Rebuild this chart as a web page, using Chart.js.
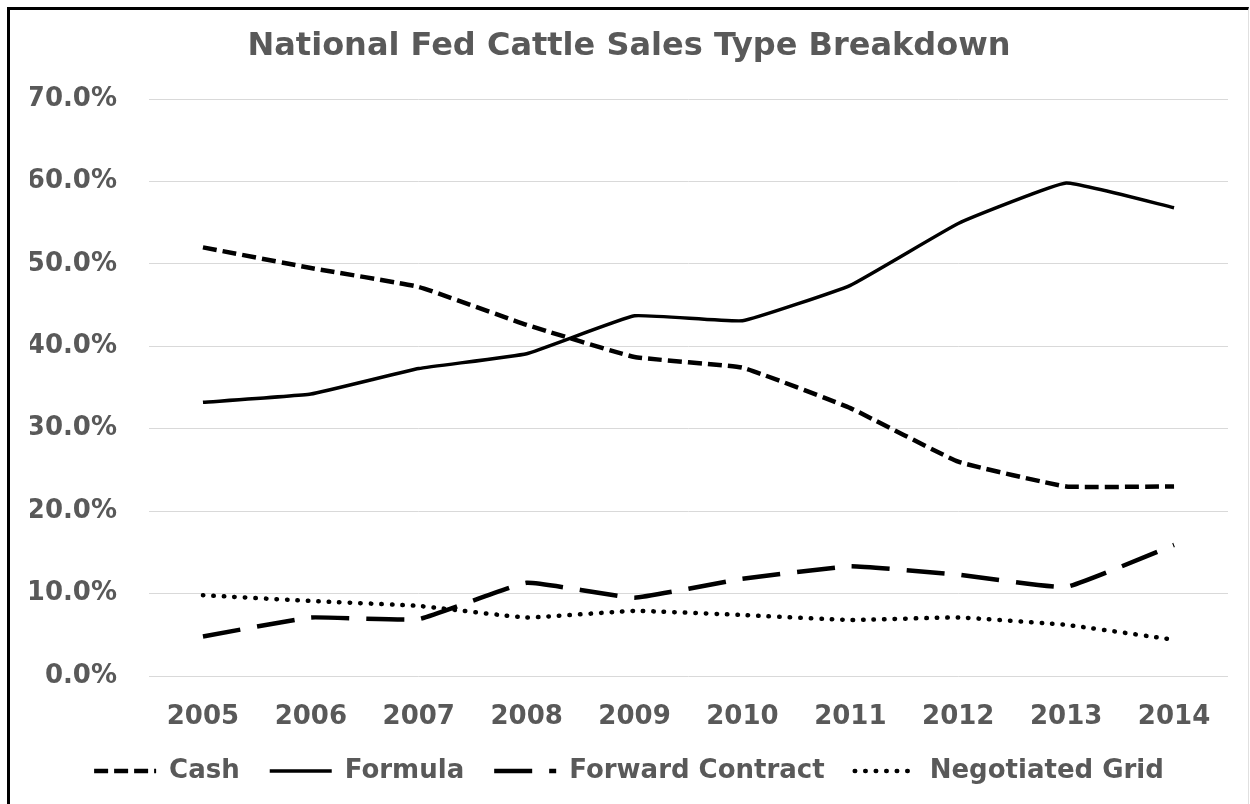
<!DOCTYPE html>
<html>
<head>
<meta charset="utf-8">
<script src="https://cdn.jsdelivr.net/npm/chart.js@4"></script>
<style>
  body { margin: 0; background: #fff; }
  #frame { position: absolute; left: 7px; top: 7px; width: 1238px; height: 810px;
           border-left: 3px solid #000; border-top: 3px solid #000; border-right: 1px solid #e0e0e0; }
  #wrap { position: absolute; left: 0; top: 0; width: 1250px; height: 804px; }
</style>
</head>
<body>
<div id="frame"></div>
<div id="wrap"><canvas id="myChart" width="1250" height="804"></canvas></div>
<script>
// data
const years = ["2005", "2006", "2007", "2008", "2009", "2010", "2011", "2012", "2013", "2014"];
const cash = [52.0, 49.5, 47.2, 42.6, 38.7, 37.4, 32.5, 26.0, 23.0, 23.0];
const formula = [33.2, 34.2, 37.3, 39.1, 43.7, 43.1, 47.4, 54.9, 59.8, 56.8];
const forwardContract = [4.8, 7.1, 6.9, 11.3, 9.5, 11.8, 13.3, 12.3, 10.8, 15.9];
const negotiatedGrid = [9.8, 9.1, 8.5, 7.1, 7.9, 7.4, 6.8, 7.1, 6.2, 4.4];
const yTicks = [0, 10, 20, 30, 40, 50, 60, 70];

const textColor = "#595959";
const fontFamily = "'DejaVu Sans', sans-serif";

//common look for each line
function lineSet(label, data, dash, width, cap) {
  return {
    label: label,
    data: data,
    borderColor: "#000",
    backgroundColor: "#000",
    borderWidth: width,
    borderDash: dash,
    borderCapStyle: cap,
    pointRadius: 0,
    pointHoverRadius: 0,
    tension: 0.1,
    fill: false
  };
}

var ctx = document.getElementById("myChart").getContext("2d");
new Chart(ctx, {
  type: "line",
  data: {
    labels: years,
    datasets: [
      lineSet("Cash", cash, [14, 6], 4.5, "butt"),
      lineSet("Formula", formula, [], 3.5, "butt"),
      lineSet("Forward Contract", forwardContract, [38, 17], 4.5, "butt"),
      lineSet("Negotiated Grid", negotiatedGrid, [0.5, 10], 4.5, "round")
    ]
  },
  options: {
    responsive: false,
    animation: false,
    layout: { padding: { left: 30, right: 22, top: 27, bottom: 10 } },
    plugins: {
      title: {
        display: true,
        text: "National Fed Cattle Sales Type Breakdown",
        color: textColor,
        font: { family: fontFamily, size: 32, weight: "bold" },
        padding: { top: 0, bottom: 33.6 }
      },
      legend: {
        position: "bottom",
        labels: {
          usePointStyle: true,
          pointStyle: "line",
          pointStyleWidth: 62,
          padding: 30,
          color: textColor,
          font: { family: fontFamily, size: 26, weight: "bold" },
          //build legend samples from the dataset line styles
          generateLabels: (chart) => chart.data.datasets.map((ds, i) => ({
            text: ds.label,
            fillStyle: ds.borderColor,
            strokeStyle: ds.borderColor,
            fontColor: textColor,
            lineWidth: ds.borderWidth,
            lineDash: ds.borderDash,
            lineCap: ds.borderCapStyle,
            pointStyle: "line",
            hidden: false,
            datasetIndex: i
          }))
        }
      },
      tooltip: { enabled: false }
    },
    scales: {
      x: {
        offset: true,
        afterFit: (s) => { s.height = 52; },
        grid: { display: false, drawTicks: false },
        border: { display: false },
        ticks: {
          padding: 26,
          maxRotation: 0,
          color: textColor,
          font: { family: fontFamily, size: 26, weight: "bold" }
        }
      },
      y: {
        min: 0,
        max: 70,
        afterFit: (s) => { s.width = 119; },
        afterBuildTicks: (s) => { s.ticks = yTicks.map((v) => ({ value: v })); },
        grid: { color: "#d9d9d9", lineWidth: 1, drawTicks: false },
        border: { display: false },
        ticks: {
          padding: 32,
          color: textColor,
          font: { family: fontFamily, size: 26, weight: "bold" },
          callback: (v) => v.toFixed(1) + "%"
        }
      }
    }
  }
});
</script>
</body>
</html>
